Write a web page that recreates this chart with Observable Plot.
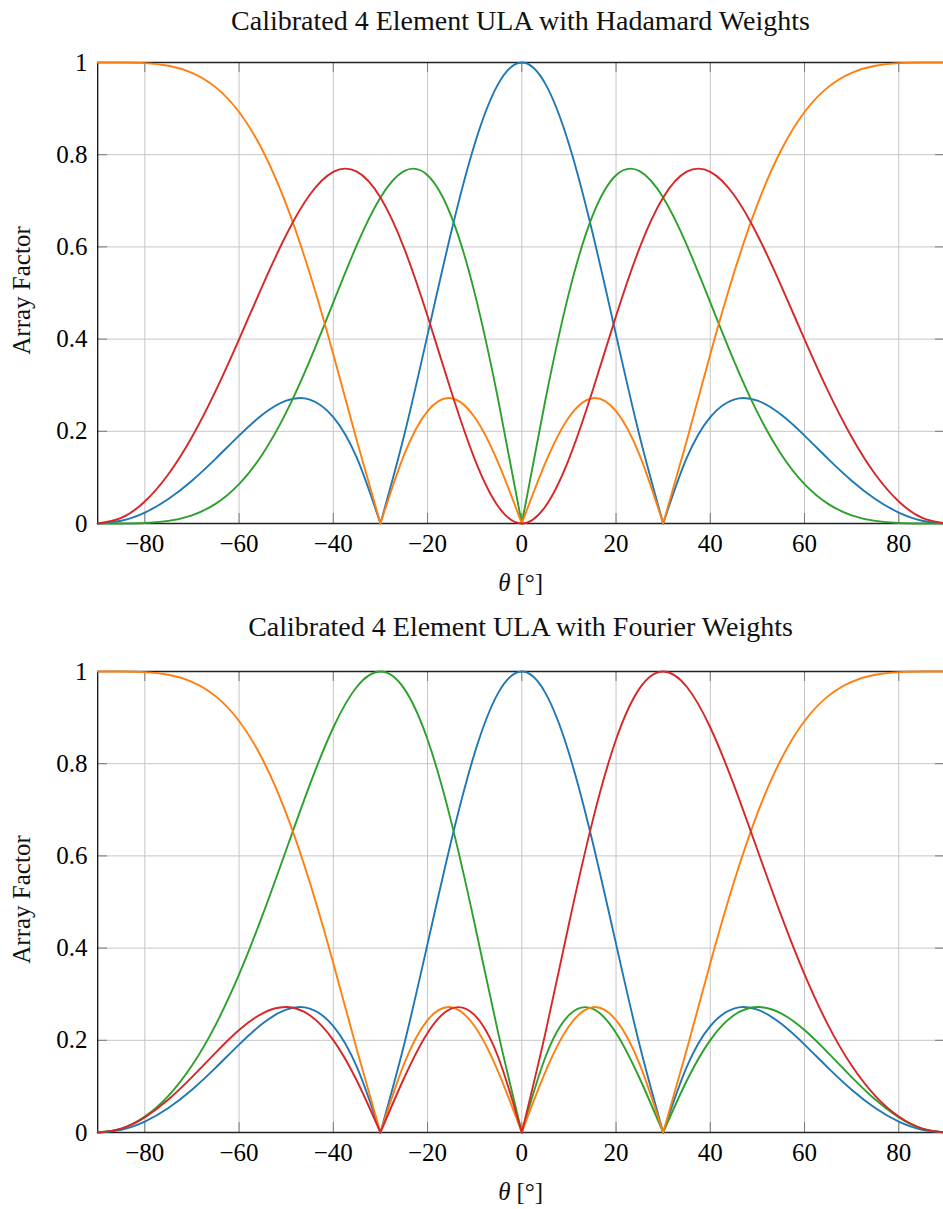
<!DOCTYPE html>
<html>
<head>
<meta charset="utf-8">
<script src="https://cdn.jsdelivr.net/npm/d3@7"></script>
<script src="https://cdn.jsdelivr.net/npm/@observablehq/plot@0.6"></script>
<style>
  html, body { margin: 0; padding: 0; background: #fff; }
  #c { width: 943px; }
  #c svg { display: block; }
</style>
</head>
<body>
<div id="c"></div>
<script>
// ---- data (array factor vs angle) ----
const theta = [-90,-85,-80,-75,-70,-65,-60,-55,-50,-45,-40,-35,-30,-25,-20,-15,-10,-5,0,5,10,15,20,25,30,35,40,45,50,55,60,65,70,75,80,85,90];

// Hadamard weights panel
const hadBlue   = [0,0.0060,0.0238,0.0532,0.0929,0.1403,0.1907,0.2362,0.2665,0.2689,0.2308,0.1422,0,0.1896,0.4091,0.6312,0.8232,0.9537,1,0.9537,0.8232,0.6312,0.4091,0.1896,0,0.1422,0.2308,0.2689,0.2665,0.2362,0.1907,0.1403,0.0929,0.0532,0.0238,0.0060,0];
const hadOrange = [1,0.9999,0.9986,0.9929,0.9777,0.9466,0.8926,0.8091,0.6923,0.5427,0.3672,0.1796,0,0.1483,0.2437,0.2718,0.2303,0.1314,0,0.1314,0.2303,0.2718,0.2437,0.1483,0,0.1796,0.3672,0.5427,0.6923,0.8091,0.8926,0.9466,0.9777,0.9929,0.9986,0.9999,1];
const hadGreen  = [0,0.0001,0.0011,0.0057,0.0178,0.0425,0.0853,0.1508,0.2409,0.3533,0.4795,0.6043,0.7071,0.7645,0.7555,0.6672,0.4997,0.2679,0,0.2679,0.4997,0.6672,0.7555,0.7645,0.7071,0.6043,0.4795,0.3533,0.2409,0.1508,0.0853,0.0425,0.0178,0.0057,0.0011,0.0001,0];
const hadRed    = [0,0.0120,0.0477,0.1067,0.1875,0.2870,0.3996,0.5165,0.6258,0.7130,0.7629,0.7631,0.7071,0.5980,0.4500,0.2873,0.1398,0.0369,0,0.0369,0.1398,0.2873,0.4500,0.5980,0.7071,0.7631,0.7629,0.7130,0.6258,0.5165,0.3996,0.2870,0.1875,0.1067,0.0477,0.0120,0];

// Fourier weights panel
const fouBlue   = [0,0.0060,0.0238,0.0532,0.0929,0.1403,0.1907,0.2362,0.2665,0.2689,0.2308,0.1422,0,0.1896,0.4091,0.6312,0.8232,0.9537,1,0.9537,0.8232,0.6312,0.4091,0.1896,0,0.1422,0.2308,0.2689,0.2665,0.2362,0.1907,0.1403,0.0929,0.0532,0.0238,0.0060,0];
const fouOrange = [1,0.9999,0.9986,0.9929,0.9777,0.9466,0.8926,0.8091,0.6923,0.5427,0.3672,0.1796,0,0.1483,0.2437,0.2718,0.2303,0.1314,0,0.1314,0.2303,0.2718,0.2437,0.1483,0,0.1796,0.3672,0.5427,0.6923,0.8091,0.8926,0.9466,0.9777,0.9929,0.9986,0.9999,1];
const fouGreen  = [0,0.0085,0.0345,0.0795,0.1452,0.2330,0.3429,0.4719,0.6129,0.7540,0.8785,0.9669,1,0.9634,0.8524,0.6749,0.4522,0.2155,0,0.1633,0.2545,0.2687,0.2160,0.1177,0,0.1122,0.2004,0.2543,0.2722,0.2586,0.2222,0.1728,0.1200,0.0714,0.0329,0.0084,0];
const fouRed    = [0,0.0084,0.0329,0.0714,0.1200,0.1728,0.2222,0.2586,0.2722,0.2543,0.2004,0.1122,0,0.1177,0.2160,0.2687,0.2545,0.1633,0,0.2155,0.4522,0.6749,0.8524,0.9634,1,0.9669,0.8785,0.7540,0.6129,0.4719,0.3429,0.2330,0.1452,0.0795,0.0345,0.0085,0];

// angles where each pattern has a sharp null (V-shaped cusp)
const hadBlueNulls = [-30, 30];
const hadOrangeNulls = [-30, 0, 30];
const hadGreenNulls = [0];
const hadRedNulls = [];
const fouBlueNulls = [-30, 30];
const fouOrangeNulls = [-30, 0, 30];
const fouGreenNulls = [0, 30];
const fouRedNulls = [-30, 0];

const seriesNames = ["pattern 1", "pattern 2", "pattern 3", "pattern 4"];
const seriesColors = ["#1f77b4", "#2ca02c", "#ff7f0e", "#d62728"];

const xTicks = [-80, -60, -40, -20, 0, 20, 40, 60, 80];
const yTicks = [0, 0.2, 0.4, 0.6, 0.8, 1];

const titles = ["Calibrated 4 Element ULA with Hadamard Weights", "Calibrated 4 Element ULA with Fourier Weights"];
const yLabel = "Array Factor";
const xLabelSymbol = "θ";
const xLabelUnit = "[°]";

// ---- build tidy rows, splitting each curve at its V-shaped nulls ----
function rows(name, values, nulls) {
  const out = [];
  let seg = 0;
  theta.forEach((t, i) => {
    out.push({theta: t, value: values[i], series: name, seg: name + "-" + seg});
    if (nulls.includes(t) && i > 0 && i < theta.length - 1) {
      seg++;
      out.push({theta: t, value: values[i], series: name, seg: name + "-" + seg});
    }
  });
  return out;
}

const FONT = "'Liberation Serif', 'Times New Roman', serif";
const fmtX = d => d < 0 ? "\u2212" + Math.abs(d) : String(d);

function panel(title, data, height, marginTop, marginBottom, titleDy) {
  const plotH = height - marginTop - marginBottom;
  const plotW = 943 - 97;
  return Plot.plot({
    width: 943,
    height,
    marginLeft: 97,
    marginRight: 0,
    marginTop,
    marginBottom,
    style: {fontFamily: FONT, fontSize: "25px", background: "#fff", color: "#000"},
    x: {domain: [-90, 90], range: [97.2, 945.4], ticks: xTicks, tickFormat: fmtX, tickSize: 0, tickPadding: 11, label: null},
    y: {domain: [0, 1], ticks: yTicks, tickFormat: d => String(d), tickSize: 0, tickPadding: 10, label: null},
    color: {type: "ordinal", domain: seriesNames, range: seriesColors},
    marks: [
      Plot.ruleX(xTicks, {stroke: "#c6c6c6", strokeWidth: 1}),
      Plot.ruleY(yTicks, {stroke: "#c6c6c6", strokeWidth: 1}),
      Plot.tickX(xTicks, {x: d => d, insetTop: plotH - 10, stroke: "#7a7a7a", strokeWidth: 1}),
      Plot.tickX(xTicks, {x: d => d, insetBottom: plotH - 10, stroke: "#7a7a7a", strokeWidth: 1}),
      Plot.tickY(yTicks, {y: d => d, insetRight: plotW - 10, stroke: "#7a7a7a", strokeWidth: 1}),
      Plot.tickY(yTicks, {y: d => d, insetLeft: plotW - 8, stroke: "#7a7a7a", strokeWidth: 1}),
      Plot.ruleY([0, 1], {stroke: "#222", strokeWidth: 1.3}),
      Plot.ruleX([-90], {stroke: "#111", strokeWidth: 1.3}),
      Plot.line(data, {x: "theta", y: "value", z: "seg", stroke: "series", curve: "natural", strokeWidth: 1.9}),
      Plot.text([title], {frameAnchor: "top", text: d => d, textAnchor: "middle", lineAnchor: "middle", dy: titleDy, fontSize: 28, fontFamily: FONT, fill: "#111"}),
      Plot.text([yLabel], {frameAnchor: "left", text: d => d, textAnchor: "middle", lineAnchor: "middle", rotate: -90, dx: -76, dy: -2.5, fontSize: 25, fontFamily: FONT, fill: "#111"}),
      Plot.text([xLabelSymbol], {frameAnchor: "bottom", text: d => d, textAnchor: "end", lineAnchor: "middle", dx: -10, dy: 59.5, fontSize: 25, fontStyle: "italic", fontFamily: FONT, fill: "#111"}),
      Plot.text([xLabelUnit], {frameAnchor: "bottom", text: d => d, textAnchor: "start", lineAnchor: "middle", dx: -4, dy: 59.5, fontSize: 25, fontFamily: FONT, fill: "#111"})
    ]
  });
}

const hadData = [
  ...rows(seriesNames[0], hadBlue, hadBlueNulls),
  ...rows(seriesNames[1], hadGreen, hadGreenNulls),
  ...rows(seriesNames[2], hadOrange, hadOrangeNulls),
  ...rows(seriesNames[3], hadRed, hadRedNulls)
];
const fouData = [
  ...rows(seriesNames[0], fouBlue, fouBlueNulls),
  ...rows(seriesNames[1], fouGreen, fouGreenNulls),
  ...rows(seriesNames[2], fouOrange, fouOrangeNulls),
  ...rows(seriesNames[3], fouRed, fouRedNulls)
];

const c = document.getElementById("c");
c.append(panel(titles[0], hadData, 600, 62, 77, -41));
c.append(panel(titles[1], fouData, 609, 71, 77, -44));
</script>
</body>
</html>
